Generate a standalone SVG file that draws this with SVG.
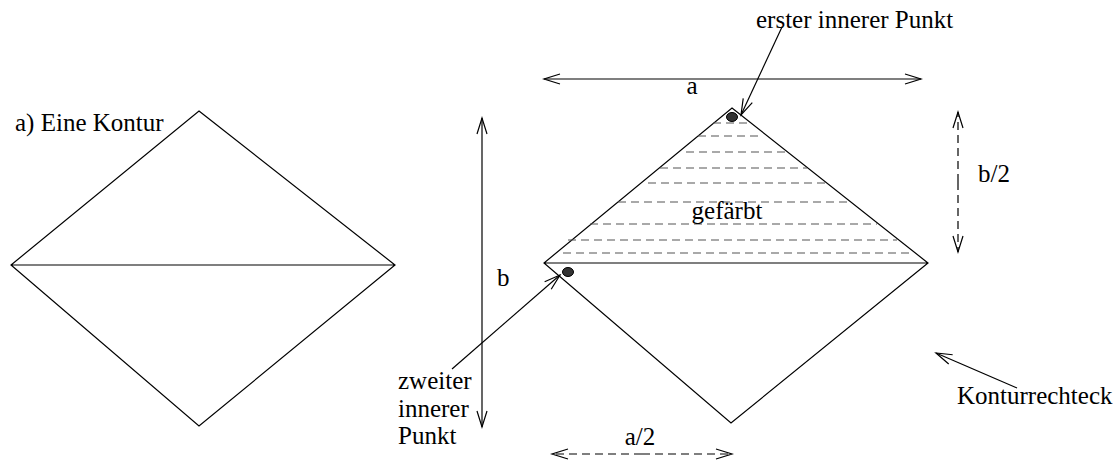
<svg xmlns="http://www.w3.org/2000/svg" width="1116" height="462" viewBox="0 0 1116 462">
<style>
.l{fill:none;stroke:#000;stroke-width:1.2}
.d{fill:none;stroke:#000;stroke-width:1.2;stroke-dasharray:8 5}
.h{fill:none;stroke:#555;stroke-width:1.2;stroke-dasharray:8 5}
text{font-family:"Liberation Serif","Times New Roman",serif;font-size:25px;fill:#000}
</style>
<defs>
<marker id="ah" markerWidth="20" markerHeight="12" refX="18" refY="6" orient="auto" markerUnits="userSpaceOnUse">
<path d="M2,1 L18,6 L2,11" fill="none" stroke="#000" stroke-width="1.2"/>
</marker>
</defs>
<rect width="1116" height="462" fill="#fff"/>
<g id="kontur">
<path class="l" d="M199,111 L395,265 L199,426 L11,265 Z M11,265 L395,265"/>
<text x="15" y="131">a) Eine Kontur</text>
</g>
<g id="konturrechteck">
<path class="l" d="M732,108 L928,263 L731,423 L544,263 Z M544,263 L928,263"/>
<g>
<path class="h" d="M713,123H748M698,136H763M686,152H787M660,168H807M648,183H827M618,202H852M590,224H877M568,240H897M563,253H910"/>
</g>
<text x="727" y="219" text-anchor="middle">gefärbt</text>
<ellipse cx="732" cy="117" rx="5.5" ry="4.5" fill="#333" stroke="#000"/>
<ellipse cx="568" cy="272" rx="5.5" ry="4.5" fill="#333" stroke="#000"/>
</g>
<g id="labels">
<text x="756" y="28">erster innerer Punkt</text>
<text x="692" y="94" text-anchor="middle">a</text>
<text x="497" y="286">b</text>
<text x="978" y="182">b/2</text>
<text x="640" y="445" text-anchor="middle">a/2</text>
<text x="398" y="389">zweiter</text>
<text x="398" y="417">innerer</text>
<text x="398" y="444">Punkt</text>
<text x="957" y="404">Konturrechteck</text>
</g>
<g id="connectors">
<path class="l" d="M733,79 L544,79" marker-end="url(#ah)"/>
<path class="l" d="M733,79 L921,79" marker-end="url(#ah)"/>
<path class="l" d="M482,272 L482,118" marker-end="url(#ah)"/>
<path class="l" d="M482,272 L482,427" marker-end="url(#ah)"/>
<path class="d" d="M958,182 L958,112" marker-end="url(#ah)"/>
<path class="d" d="M958,182 L958,252" marker-end="url(#ah)"/>
<path class="d" d="M642,454 L552,454" marker-end="url(#ah)"/>
<path class="d" d="M642,454 L732,454" marker-end="url(#ah)"/>
<path class="l" d="M782,27 L741,115" marker-end="url(#ah)"/>
<path class="l" d="M452,369 L560,275" marker-end="url(#ah)"/>
<path class="l" d="M1017,388 L936,353" marker-end="url(#ah)"/>
</g>
</svg>
